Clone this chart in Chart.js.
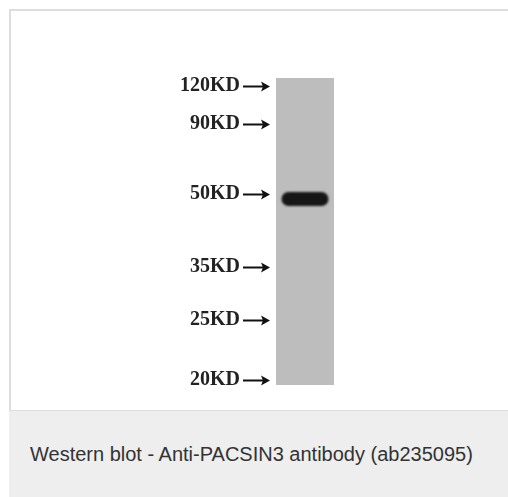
<!DOCTYPE html>
<html>
<head>
<meta charset="utf-8">
<script src="https://cdn.jsdelivr.net/npm/chart.js@4/dist/chart.umd.min.js"></script>
<style>
  html, body { margin: 0; padding: 0; background: #fff; overflow: hidden; }
  body { width: 508px; height: 497px; position: relative; }
  .frame { position: absolute; left: 9px; top: 9px; width: 520px; height: 400px;
           border-top: 2px solid #dddddd; border-left: 2px solid #dddddd; }
  .blot { position: absolute; left: 150px; top: 60px; width: 210px; height: 340px; }
  .caption { position: absolute; left: 9px; top: 410px; width: 520px; height: 87px;
             background: #edeeed; border-top: 1px solid #dcdcdc;
             font: 20px "Liberation Sans", Arial, sans-serif; color: #333; }
  .caption span { position: absolute; left: 21px; top: 32px; }
</style>
</head>
<body>
<div class="frame"></div>
<div class="blot"><canvas id="wb"></canvas></div>
<div class="caption"><span>Western blot - Anti-PACSIN3 antibody (ab235095)</span></div>
<script>
// marker ladder, migration distance from top of lane (px units)
const markerLabels = ['120KD', '90KD', '50KD', '35KD', '25KD', '20KD'];
const markerPos = [8, 46, 116, 189, 242, 302];
const laneLength = 307;
const lanes = ['lane 1'];
// detected band (PACSIN3, ~48 kDa), top and bottom edge
const bandTop = [114];
const bandBottom = [128];

// arrows next to each marker label
const arrowPlugin = {
  id: 'markerArrows',
  afterDraw(chart) {
    const ctx = chart.ctx;
    const y = chart.scales.y;
    const left = chart.chartArea.left;
    ctx.save();
    ctx.strokeStyle = '#111';
    ctx.fillStyle = '#111';
    ctx.lineWidth = 2;
    y.ticks.forEach(t => {
      const py = Math.round(y.getPixelForValue(t.value)) + 0.5;
      const x0 = left - 33, x1 = left - 6;
      ctx.beginPath();
      ctx.moveTo(x0, py);
      ctx.lineTo(x1 - 6, py);
      ctx.stroke();
      ctx.beginPath();
      ctx.moveTo(x1, py);
      ctx.lineTo(x1 - 9, py - 5);
      ctx.lineTo(x1 - 7, py);
      ctx.lineTo(x1 - 9, py + 5);
      ctx.closePath();
      ctx.fill();
    });
    ctx.restore();
  }
};

const blurPlugin = {
  id: 'bandBlur',
  beforeDatasetDraw(chart, args) {
    if (args.index === 1) { chart.ctx.save(); chart.ctx.filter = 'blur(1px)'; }
  },
  afterDatasetDraw(chart, args) {
    if (args.index === 1) chart.ctx.restore();
  }
};

new Chart(document.getElementById('wb'), {
  type: 'bar',
  data: {
    labels: lanes,
    datasets: [
      {
        data: lanes.map(() => [0, laneLength]),
        backgroundColor: '#bdbdbd',
        barPercentage: 1,
        categoryPercentage: 1,
        grouped: false,
        order: 2
      },
      {
        data: lanes.map((l, i) => [bandTop[i], bandBottom[i]]),
        backgroundColor: '#161616',
        borderRadius: 7,
        borderSkipped: false,
        barPercentage: 0.81,
        categoryPercentage: 1,
        grouped: false,
        order: 1
      }
    ]
  },
  options: {
    responsive: true,
    maintainAspectRatio: false,
    animation: false,
    events: [],
    layout: { padding: { top: 18, bottom: 15, right: 26, left: 0 } },
    plugins: { legend: { display: false }, tooltip: { enabled: false } },
    scales: {
      x: { display: false },
      y: {
        min: 0,
        max: laneLength,
        reverse: true,
        border: { display: false },
        grid: { drawOnChartArea: false, drawTicks: true, tickLength: 33, color: 'transparent' },
        afterBuildTicks: s => { s.ticks = markerPos.map(v => ({ value: v })); },
        afterFit: s => { s.width = 126; },
        ticks: {
          padding: 3,
          color: '#222',
          font: { family: 'Liberation Serif', size: 20, weight: 'bold' },
          callback: (v, i) => markerLabels[i]
        }
      }
    }
  },
  plugins: [arrowPlugin, blurPlugin]
});
</script>
</body>
</html>
